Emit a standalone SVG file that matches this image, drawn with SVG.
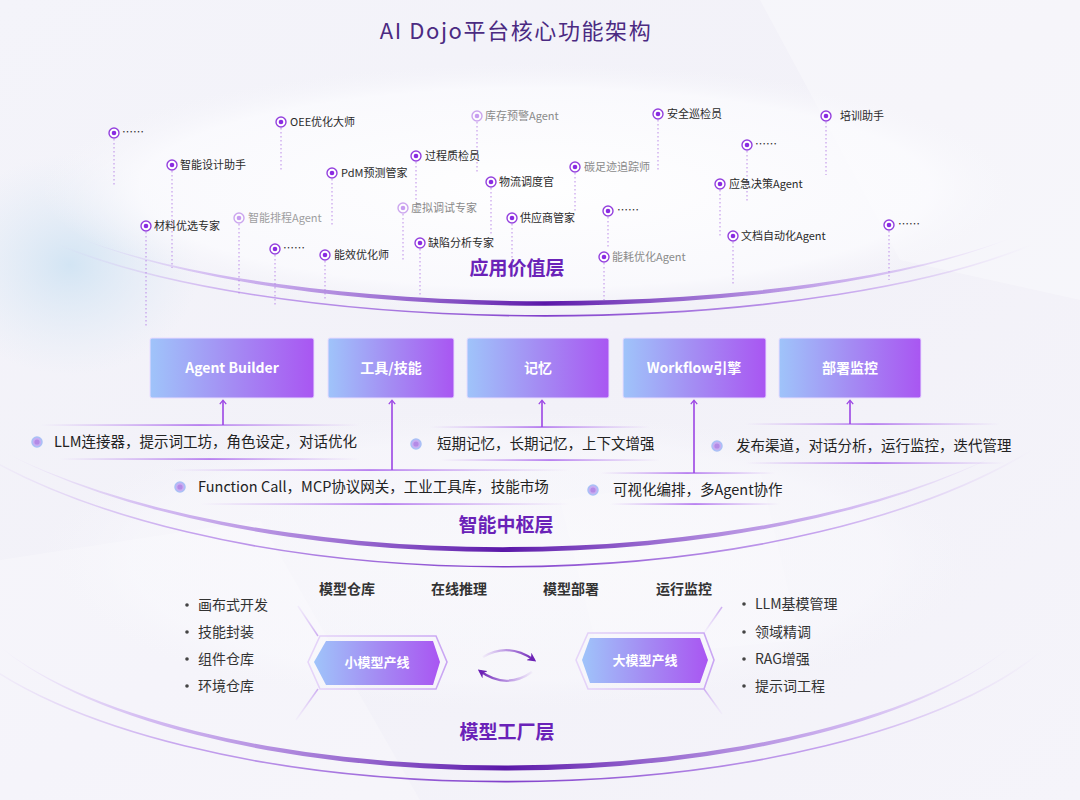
<svg xmlns="http://www.w3.org/2000/svg" width="1080" height="800" viewBox="0 0 1080 800">
<defs>
<style>
text{font-family:"Noto Sans CJK SC","Noto Sans",sans-serif;}
.title{font-size:22px;fill:#4b2a82;font-weight:400;letter-spacing:1.6px;}
.layer{font-size:19px;font-weight:700;fill:#6a22b8;}
.it{font-size:11px;fill:#2a2a2a;}
.gr{fill:#8a8a8a;}
.ring{fill:#fff;stroke:#9440de;stroke-width:1.4;}
.core{fill:#8a2be2;}
.fade{opacity:0.45;}
.dot{stroke:#b27ae6;stroke-width:1;stroke-dasharray:1.5 2.5;opacity:0.85;}
.box{stroke:#e9dcff;stroke-width:1;}
.btxt{font-size:14px;font-weight:700;fill:#fff;text-anchor:middle;}
.feat{font-size:14.5px;fill:#222;}
.bul{fill:#c7aef2;stroke:#a9c0f6;stroke-width:1.5;}
.bulc{fill:#b48ae6;}
.col{font-size:14px;font-weight:700;fill:#333;text-anchor:middle;}
.li{font-size:14px;fill:#333;}
.ldot{fill:#444;}
.htxt{font-size:13px;font-weight:700;fill:#fff;text-anchor:middle;}
.conn{stroke:#9b45e4;stroke-width:1.6;fill:none;}
</style>
<linearGradient id="bg" x1="0" y1="0" x2="1" y2="1">
<stop offset="0" stop-color="#f4f4fa"/><stop offset="0.5" stop-color="#f2f1f8"/><stop offset="1" stop-color="#f5f4fa"/>
</linearGradient>
<radialGradient id="blueGlow" cx="0.5" cy="0.5" r="0.5">
<stop offset="0" stop-color="#cfe3f3" stop-opacity="0.9"/><stop offset="1" stop-color="#dfeaf5" stop-opacity="0"/>
</radialGradient>
<radialGradient id="whiteGlow" cx="0.5" cy="0.5" r="0.5">
<stop offset="0" stop-color="#ffffff" stop-opacity="0.95"/><stop offset="0.8" stop-color="#fbfbfe" stop-opacity="0.8"/><stop offset="1" stop-color="#f5f5fa" stop-opacity="0"/>
</radialGradient>
<linearGradient id="boxGrad" x1="0" y1="0" x2="1" y2="0">
<stop offset="0" stop-color="#9fc4fa"/><stop offset="0.5" stop-color="#a48cf3"/><stop offset="1" stop-color="#a956f2"/>
</linearGradient>
<linearGradient id="crescent" x1="0" y1="0" x2="1" y2="0">
<stop offset="0" stop-color="#c9a5f0" stop-opacity="0"/>
<stop offset="0.15" stop-color="#b283ea" stop-opacity="0.5"/>
<stop offset="0.5" stop-color="#5a17a8" stop-opacity="1"/>
<stop offset="0.85" stop-color="#b283ea" stop-opacity="0.5"/>
<stop offset="1" stop-color="#c9a5f0" stop-opacity="0"/>
</linearGradient>
<linearGradient id="thin" x1="0" y1="0" x2="1" y2="0">
<stop offset="0" stop-color="#c9a5f0" stop-opacity="0"/>
<stop offset="0.2" stop-color="#a66ee6" stop-opacity="0.6"/>
<stop offset="0.5" stop-color="#7a34c8" stop-opacity="0.95"/>
<stop offset="0.8" stop-color="#a66ee6" stop-opacity="0.6"/>
<stop offset="1" stop-color="#c9a5f0" stop-opacity="0"/>
</linearGradient>
<linearGradient id="barLine" x1="0" y1="0" x2="1" y2="0">
<stop offset="0" stop-color="#b57ded" stop-opacity="0"/>
<stop offset="0.5" stop-color="#a155ec" stop-opacity="0.9"/>
<stop offset="1" stop-color="#b57ded" stop-opacity="0"/>
</linearGradient>
<linearGradient id="frameGrad" x1="0" y1="0" x2="1" y2="0">
<stop offset="0" stop-color="#e6d6f9"/><stop offset="1" stop-color="#c9a5f3"/>
</linearGradient>
<linearGradient id="diagGrad" x1="0" y1="0" x2="0" y2="1">
<stop offset="0" stop-color="#d8bff6" stop-opacity="0.2"/><stop offset="1" stop-color="#c9a5f0" stop-opacity="0.9"/>
</linearGradient>
<linearGradient id="diagGrad2" x1="0" y1="0" x2="0" y2="1">
<stop offset="0" stop-color="#c9a5f0" stop-opacity="0.9"/><stop offset="1" stop-color="#d8bff6" stop-opacity="0.1"/>
</linearGradient>
<linearGradient id="cycA" x1="0" y1="0" x2="1" y2="0">
<stop offset="0" stop-color="#8a3fd8" stop-opacity="0.05"/><stop offset="1" stop-color="#6c22b5"/>
</linearGradient>
<linearGradient id="cycB" x1="1" y1="0" x2="0" y2="0">
<stop offset="0" stop-color="#8a3fd8" stop-opacity="0.05"/><stop offset="1" stop-color="#6c22b5"/>
</linearGradient>
<marker id="chev" viewBox="0 0 10 10" refX="5" refY="5" markerWidth="8" markerHeight="8" orient="auto" markerUnits="userSpaceOnUse">
<path d="M1,1 L6,5 L1,9" fill="none" stroke="#9b45e4" stroke-width="1.6"/>
</marker>
<marker id="cycHead" viewBox="0 0 10 10" refX="7" refY="5" markerWidth="9" markerHeight="9" orient="auto" markerUnits="userSpaceOnUse">
<path d="M0,0 L10,5 L0,10 L3,5 Z" fill="#6c22b5"/>
</marker>
</defs>

<!-- background -->
<rect x="0" y="0" width="1080" height="800" fill="url(#bg)"/>
<polygon points="0,560 260,520 420,800 0,800" fill="#ffffff" opacity="0.25"/>
<polygon points="760,0 1080,0 1080,300 900,260" fill="#ffffff" opacity="0.3"/>
<polygon points="560,500 760,470 800,640 600,660" fill="#ffffff" opacity="0.2"/>
<ellipse cx="70" cy="265" rx="130" ry="110" fill="url(#blueGlow)"/>
<ellipse cx="535" cy="188" rx="495" ry="125" fill="url(#whiteGlow)"/>
<ellipse cx="505" cy="560" rx="470" ry="150" fill="url(#whiteGlow)" opacity="0.5"/>

<!-- title -->
<text class="title" x="516" y="39" text-anchor="middle">AI Dojo平台核心功能架构</text>

<!-- layer arcs -->
<g id="layer-arcs">
<path d="M74 236 A560 152 0 0 0 1016 236 A560 142 0 0 1 74 236 Z" fill="url(#crescent)"/>
<path d="M59 245 A580 156 0 0 0 1031 245" fill="none" stroke="url(#thin)" stroke-width="1.6"/>
<path d="M0 450 A626 252 0 0 0 1006 450 A626 240 0 0 1 0 450 Z" fill="url(#crescent)"/>
<path d="M-26 450 A640 267 0 0 0 1032 450" fill="none" stroke="url(#thin)" stroke-width="1.6"/>
<path d="M-8 640 A555 211 0 0 0 1018 640 A555 203 0 0 1 -8 640 Z" fill="url(#crescent)"/>
<path d="M-33 650 A589 222 0 0 0 1043 650" fill="none" stroke="url(#thin)" stroke-width="1.6"/>
</g>

<!-- application layer -->
<g id="app-layer">
<text class="layer" x="517" y="275" text-anchor="middle">应用价值层</text>
<g id="app-more1"><line class="dot" x1="114" y1="139" x2="114" y2="187"/><circle class="ring" cx="114" cy="133" r="5"/><circle class="core" cx="114" cy="133" r="2.3"/><text class="it" x="122" y="136">……</text></g>
<g id="app-oee"><line class="dot" x1="281" y1="128" x2="281" y2="172"/><circle class="ring" cx="281" cy="122" r="5"/><circle class="core" cx="281" cy="122" r="2.3"/><text class="it" x="290" y="126">OEE优化大师</text></g>
<g id="app-design"><line class="dot" x1="172" y1="171" x2="172" y2="268"/><circle class="ring" cx="172" cy="165" r="5"/><circle class="core" cx="172" cy="165" r="2.3"/><text class="it" x="180" y="169">智能设计助手</text></g>
<g id="app-pdm"><line class="dot" x1="332" y1="179" x2="332" y2="225"/><circle class="ring" cx="332" cy="173" r="5"/><circle class="core" cx="332" cy="173" r="2.3"/><text class="it" x="341" y="177">PdM预测管家</text></g>
<g id="app-qc"><line class="dot" x1="416" y1="162" x2="416" y2="200"/><circle class="ring" cx="416" cy="156" r="5"/><circle class="core" cx="416" cy="156" r="2.3"/><text class="it" x="425" y="160">过程质检员</text></g>
<g id="app-sched"><line class="dot fade" x1="239" y1="224" x2="239" y2="295"/><g class="fade"><circle class="ring" cx="239" cy="218" r="5"/><circle class="core" cx="239" cy="218" r="2.3"/><text class="it" x="248" y="222">智能排程Agent</text></g></g>
<g id="app-material"><line class="dot" x1="146" y1="232" x2="146" y2="328"/><circle class="ring" cx="146" cy="226" r="5"/><circle class="core" cx="146" cy="226" r="2.3"/><text class="it" x="154" y="230">材料优选专家</text></g>
<g id="app-more2"><line class="dot" x1="275" y1="255" x2="275" y2="305"/><circle class="ring" cx="275" cy="249" r="5"/><circle class="core" cx="275" cy="249" r="2.3"/><text class="it" x="283" y="252">……</text></g>
<g id="app-energy"><line class="dot" x1="325" y1="261" x2="325" y2="300"/><circle class="ring" cx="325" cy="255" r="5"/><circle class="core" cx="325" cy="255" r="2.3"/><text class="it" x="334" y="259">能效优化师</text></g>
<g id="app-virtual"><line class="dot fade" x1="403" y1="214" x2="403" y2="260"/><g class="fade"><circle class="ring" cx="403" cy="208" r="5"/><circle class="core" cx="403" cy="208" r="2.3"/></g><text class="it gr" x="411" y="212">虚拟调试专家</text></g>
<g id="app-defect"><line class="dot" x1="420" y1="249" x2="420" y2="295"/><circle class="ring" cx="420" cy="243" r="5"/><circle class="core" cx="420" cy="243" r="2.3"/><text class="it" x="428" y="247">缺陷分析专家</text></g>
<g id="app-stock"><line class="dot fade" x1="477" y1="122" x2="477" y2="172"/><g class="fade"><circle class="ring" cx="477" cy="116" r="5"/><circle class="core" cx="477" cy="116" r="2.3"/></g><text class="it gr" x="485" y="120">库存预警Agent</text></g>
<g id="app-logistics"><line class="dot" x1="491" y1="188" x2="491" y2="235"/><circle class="ring" cx="491" cy="182" r="5"/><circle class="core" cx="491" cy="182" r="2.3"/><text class="it" x="499" y="186">物流调度官</text></g>
<g id="app-supplier"><line class="dot" x1="512" y1="224" x2="512" y2="262"/><circle class="ring" cx="512" cy="218" r="5"/><circle class="core" cx="512" cy="218" r="2.3"/><text class="it" x="520" y="222">供应商管家</text></g>
<g id="app-carbon"><line class="dot" x1="575" y1="173" x2="575" y2="212"/><circle class="ring" cx="575" cy="167" r="5"/><circle class="core" cx="575" cy="167" r="2.3"/><text class="it gr" x="584" y="171">碳足迹追踪师</text></g>
<g id="app-safety"><line class="dot" x1="658" y1="120" x2="658" y2="170"/><circle class="ring" cx="658" cy="114" r="5"/><circle class="core" cx="658" cy="114" r="2.3"/><text class="it" x="667" y="118">安全巡检员</text></g>
<g id="app-more3"><line class="dot" x1="608" y1="217" x2="608" y2="248"/><circle class="ring" cx="608" cy="211" r="5"/><circle class="core" cx="608" cy="211" r="2.3"/><text class="it" x="617" y="214">……</text></g>
<g id="app-energyagent"><line class="dot" x1="604" y1="263" x2="604" y2="300"/><circle class="ring" cx="604" cy="257" r="5"/><circle class="core" cx="604" cy="257" r="2.3"/><text class="it gr" x="612" y="261">能耗优化Agent</text></g>
<g id="app-training"><line class="dot" x1="826" y1="122" x2="826" y2="175"/><circle class="ring" cx="826" cy="116" r="5"/><circle class="core" cx="826" cy="116" r="2.3"/><text class="it" x="840" y="120">培训助手</text></g>
<g id="app-more4"><line class="dot" x1="747" y1="151" x2="747" y2="202"/><circle class="ring" cx="747" cy="145" r="5"/><circle class="core" cx="747" cy="145" r="2.3"/><text class="it" x="755" y="148">……</text></g>
<g id="app-emergency"><line class="dot" x1="720" y1="190" x2="720" y2="238"/><circle class="ring" cx="720" cy="184" r="5"/><circle class="core" cx="720" cy="184" r="2.3"/><text class="it" x="729" y="188">应急决策Agent</text></g>
<g id="app-doc"><line class="dot" x1="733" y1="242" x2="733" y2="285"/><circle class="ring" cx="733" cy="236" r="5"/><circle class="core" cx="733" cy="236" r="2.3"/><text class="it" x="741" y="240">文档自动化Agent</text></g>
<g id="app-more5"><line class="dot" x1="889" y1="231" x2="889" y2="280"/><circle class="ring" cx="889" cy="225" r="5"/><circle class="core" cx="889" cy="225" r="2.3"/><text class="it" x="898" y="228">……</text></g>
</g>

<!-- middle layer boxes -->
<g id="box-agent-builder"><rect class="box" x="150" y="338" width="164" height="60" rx="2" fill="url(#boxGrad)"/><text class="btxt" x="232" y="373">Agent Builder</text></g>
<g id="box-tools"><rect class="box" x="328" y="338" width="126" height="60" rx="2" fill="url(#boxGrad)"/><text class="btxt" x="391" y="373">工具/技能</text></g>
<g id="box-memory"><rect class="box" x="467" y="338" width="142" height="60" rx="2" fill="url(#boxGrad)"/><text class="btxt" x="538" y="373">记忆</text></g>
<g id="box-workflow"><rect class="box" x="623" y="338" width="143" height="60" rx="2" fill="url(#boxGrad)"/><text class="btxt" x="694" y="373">Workflow引擎</text></g>
<g id="box-deploy"><rect class="box" x="779" y="338" width="142" height="60" rx="2" fill="url(#boxGrad)"/><text class="btxt" x="850" y="373">部署监控</text></g>

<!-- feature bars -->
<g id="feat-agent">
<rect x="40" y="424.3" width="320" height="1.5" fill="url(#barLine)"/>
<rect x="60" y="458.3" width="300" height="1.5" fill="url(#barLine)"/>
<circle class="bul" cx="37" cy="442" r="5"/><circle class="bulc" cx="37" cy="442" r="2.6"/>
<text class="feat" x="54" y="447">LLM连接器，提示词工坊，角色设定，对话优化</text>
</g>
<g id="feat-memory">
<rect x="430" y="426.3" width="220" height="1.5" fill="url(#barLine)"/>
<rect x="440" y="459.3" width="220" height="1.5" fill="url(#barLine)"/>
<circle class="bul" cx="416" cy="444" r="5"/><circle class="bulc" cx="416" cy="444" r="2.6"/>
<text class="feat" x="437" y="449">短期记忆，长期记忆，上下文增强</text>
</g>
<g id="feat-deploy">
<rect x="745" y="423.3" width="255" height="1.5" fill="url(#barLine)"/>
<rect x="745" y="462.3" width="260" height="1.5" fill="url(#barLine)"/>
<circle class="bul" cx="717" cy="446" r="5"/><circle class="bulc" cx="717" cy="446" r="2.6"/>
<text class="feat" x="736" y="451">发布渠道，对话分析，运行监控，迭代管理</text>
</g>
<g id="feat-tools">
<rect x="170" y="469.3" width="400" height="1.5" fill="url(#barLine)"/>
<rect x="200" y="503.3" width="370" height="1.5" fill="url(#barLine)"/>
<circle class="bul" cx="180" cy="487" r="5"/><circle class="bulc" cx="180" cy="487" r="2.6"/>
<text class="feat" x="198" y="492">Function Call，MCP协议网关，工业工具库，技能市场</text>
</g>
<g id="feat-workflow">
<rect x="600" y="472.3" width="175" height="1.5" fill="url(#barLine)"/>
<rect x="610" y="503.3" width="170" height="1.5" fill="url(#barLine)"/>
<circle class="bul" cx="593" cy="490" r="5"/><circle class="bulc" cx="593" cy="490" r="2.6"/>
<text class="feat" x="613" y="495">可视化编排，多Agent协作</text>
</g>
<text class="layer" x="506" y="532" text-anchor="middle">智能中枢层</text>

<!-- model factory layer -->
<g id="factory-columns">
<text class="col" x="347" y="594">模型仓库</text>
<text class="col" x="459" y="594">在线推理</text>
<text class="col" x="571" y="594">模型部署</text>
<text class="col" x="684" y="594">运行监控</text>
</g>
<g id="small-list">
<circle class="ldot" cx="187" cy="605" r="1.8"/><text class="li" x="198" y="610">画布式开发</text>
<circle class="ldot" cx="187" cy="632" r="1.8"/><text class="li" x="198" y="637">技能封装</text>
<circle class="ldot" cx="187" cy="659" r="1.8"/><text class="li" x="198" y="664">组件仓库</text>
<circle class="ldot" cx="187" cy="686" r="1.8"/><text class="li" x="198" y="691">环境仓库</text>
</g>
<g id="large-list">
<circle class="ldot" cx="744" cy="604" r="1.8"/><text class="li" x="755" y="609">LLM基模管理</text>
<circle class="ldot" cx="744" cy="632" r="1.8"/><text class="li" x="755" y="637">领域精调</text>
<circle class="ldot" cx="744" cy="659" r="1.8"/><text class="li" x="755" y="664">RAG增强</text>
<circle class="ldot" cx="744" cy="686" r="1.8"/><text class="li" x="755" y="691">提示词工程</text>
</g>
<g id="small-model-line">
<line x1="298" y1="606" x2="318" y2="636" stroke="url(#diagGrad)" stroke-width="1.5"/>
<line x1="318" y1="689" x2="296" y2="720" stroke="url(#diagGrad2)" stroke-width="1.5"/>
<polygon points="308,662 320,636 436,636 447,662 436,689 320,689" fill="none" stroke="url(#frameGrad)" stroke-width="1.6"/>
<polygon points="314,662 326,641 433,641 440,662 433,685 326,685" fill="url(#boxGrad)"/>
<text class="htxt" x="377" y="667">小模型产线</text>
</g>
<g id="large-model-line">
<line x1="704" y1="633" x2="722" y2="607" stroke="url(#diagGrad2)" stroke-width="1.5"/>
<line x1="704" y1="689" x2="722" y2="714" stroke="url(#diagGrad2)" stroke-width="1.5"/>
<polygon points="576,660 588,633 704,633 714,660 704,689 588,689" fill="none" stroke="url(#frameGrad)" stroke-width="1.6"/>
<polygon points="582,660 590,638 700,638 708,660 700,683 590,683" fill="url(#boxGrad)"/>
<text class="htxt" x="645" y="665">大模型产线</text>
</g>
<text class="layer" x="507" y="739" text-anchor="middle">模型工厂层</text>

<!-- connectors -->
<g id="connectors">
<line class="conn" x1="223" y1="425" x2="223" y2="401" marker-end="url(#chev)"/>
<line class="conn" x1="392" y1="470" x2="392" y2="401" marker-end="url(#chev)"/>
<line class="conn" x1="542" y1="427" x2="542" y2="401" marker-end="url(#chev)"/>
<line class="conn" x1="694" y1="473" x2="694" y2="401" marker-end="url(#chev)"/>
<line class="conn" x1="850" y1="424" x2="850" y2="401" marker-end="url(#chev)"/>
<path d="M483 657 Q508 642 534 660" fill="none" stroke="url(#cycA)" stroke-width="2.2" marker-end="url(#cycHead)"/>
<path d="M532 672 Q506 690 480 671" fill="none" stroke="url(#cycB)" stroke-width="2.2" marker-end="url(#cycHead)"/>
</g>
</svg>
